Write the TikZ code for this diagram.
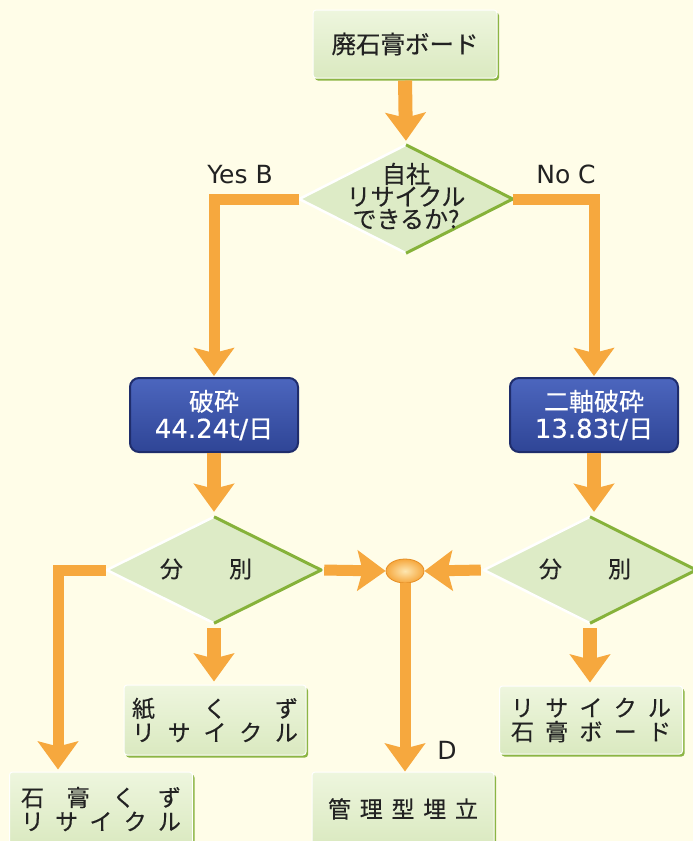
\documentclass[tikz,border=0pt]{standalone}
\usepackage{fontspec}
\setmainfont{Noto Sans CJK JP}[FakeBold=0.4]
\newfontfamily\lat{DejaVu Sans}
\newfontfamily\latb{DejaVu Sans}[FakeBold=0.4]
\usetikzlibrary{arrows.meta,shapes.geometric,shadows}
\definecolor{bg}{HTML}{FFFDE8}
\definecolor{orng}{HTML}{F6A83E}
\definecolor{orngdark}{HTML}{E58E25}
\definecolor{orngl}{HTML}{FDE6B0}
\definecolor{gfillA}{HTML}{EEF6DE}
\definecolor{gfillB}{HTML}{DAE9C0}
\definecolor{gshadow}{HTML}{8CB544}
\definecolor{dfill}{HTML}{DDEBC6}
\definecolor{dgreen}{HTML}{86B23A}
\definecolor{bfillA}{HTML}{4C66BE}
\definecolor{bfillB}{HTML}{2F4596}
\definecolor{bdraw}{HTML}{1F2D6C}
\definecolor{txt}{HTML}{222222}
\newcommand\diaedges[1]{%
  \draw[white, line width=2.5pt, line join=round] (#1.south) -- (#1.west) -- (#1.north);
  \draw[dgreen, line width=3pt, line join=round] (#1.north) -- (#1.east) -- (#1.south);}
\tikzset{
  gbox/.style={rectangle, rounded corners=3pt, top color=gfillA, bottom color=gfillB,
    draw=white, line width=1pt, inner sep=0pt, align=center, text=txt,
    font=\fontsize{23}{24}\selectfont,
    general shadow={fill=gshadow, shadow xshift=2pt, shadow yshift=-2.5pt}},
  bbox/.style={rectangle, rounded corners=9pt, top color=bfillA, bottom color=bfillB,
    draw=bdraw, line width=2pt, inner sep=0pt, align=center, text=white,
    font=\fontsize{25}{27}\selectfont, minimum width=168pt, minimum height=74pt},
  dia/.style={diamond, inner sep=0pt, fill=dfill},
  dtext/.style={align=center, text=txt, inner sep=0pt},
  sarr/.style={draw=orng, line width=14pt, -{Stealth[length=28pt,width=40pt,inset=5pt]}},
  larr/.style={draw=orng, line width=11pt, -{Stealth[length=28pt,width=40pt,inset=5pt]}},
  lbl/.style={font=\lat\fontsize{25}{28}\selectfont, text=txt, inner sep=0pt},
}
\begin{document}
\begin{tikzpicture}[x=1pt,y=-1pt]
\useasboundingbox (0,0) rectangle (693,841);
\clip (0,0) rectangle (693,841);
\fill[bg] (0,0) rectangle (693,841);

% nodes
\node[gbox, minimum width=184pt, minimum height=68pt, font=\fontsize{24.5}{26}\selectfont] (top) at (405,44) {廃石膏ボード};

\node[dia, minimum width=213pt, minimum height=108pt] (q) at (406,199) {};
\diaedges{q}
\node[dtext, font=\fontsize{24}{22.5}\selectfont] (qt) at (406,196) {自社\\リサイクル\\できるか?};

\node[lbl] (yes) at (240,175) {Yes B};
\node[lbl] (noc) at (566,174) {No C};

\node[bbox] (bL) at (214,415) {破砕\\{\latb\fontsize{26}{27}\selectfont 44.24t/}日};
\node[bbox] (bR) at (594,415) {二軸破砕\\{\latb\fontsize{26}{27}\selectfont 13.83t/}日};

\node[dia, minimum width=214pt, minimum height=106pt] (sL) at (214,570) {};
\diaedges{sL}
\node[dtext, font=\fontsize{23}{24}\selectfont] (sLt) at (206,569) {分\hspace{2em}別};

\node[dia, minimum width=212pt, minimum height=106pt] (sR) at (590,570) {};
\diaedges{sR}
\node[dtext, font=\fontsize{23}{24}\selectfont] (sRt) at (585,569) {分\hspace{2em}別};

\node[ellipse, minimum width=38pt, minimum height=24pt, inner sep=0pt,
  inner color=orngl, outer color=orng, draw=orngdark, line width=0.8pt] (m) at (405,571) {};

\node[gbox, minimum width=182pt, minimum height=70pt] (kami) at (215,720)
  {\makebox[166pt]{紙\hfill く\hfill ず}\\\makebox[166pt]{リ\hfill サ\hfill イ\hfill ク\hfill ル}};
\node[gbox, minimum width=183pt, minimum height=68pt] (rb) at (591,720)
  {\makebox[160pt]{リ\hfill サ\hfill イ\hfill ク\hfill ル}\\\makebox[160pt]{石\hfill 膏\hfill ボ\hfill ー\hfill ド}};
\node[gbox, minimum width=183pt, minimum height=74pt] (gk) at (101,809)
  {\makebox[160pt]{石\hfill 膏\hfill く\hfill ず}\\\makebox[160pt]{リ\hfill サ\hfill イ\hfill ク\hfill ル}};
\node[gbox, minimum width=182pt, minimum height=74pt] (kanri) at (403,809)
  {\raisebox{2pt}{\makebox[150pt]{管\hfill 理\hfill 型\hfill 埋\hfill 立}}};

\node[lbl] (dl) at (447,750) {D};

% connectors
\draw[sarr, shorten <=2pt, shorten >=4pt] (top.south) -- (q.north);
\draw[larr, shorten >=1pt] (q.west) -| (bL.north);
\draw[larr, shorten >=1pt] (q.east) -| (bR.north);
\draw[sarr, shorten >=5pt] (bL.south) -- (bL.south |- sL.north);
\draw[sarr, shorten >=5pt] (bR.south) -- (bR.south |- sR.north);
\draw[sarr, shorten <=5pt, shorten >=3pt] (sL.south) -- (sL.south |- kami.north);
\draw[sarr, shorten <=5pt, shorten >=3pt] (sR.south) -- (sR.south |- rb.north);
\draw[larr, shorten <=3pt] (sL.east) -- (m.west);
\draw[larr, shorten <=3pt] (sR.west) -- (m.east);
\draw[larr] (m.south) -- (m.south |- kanri.north);
\draw[larr, shorten <=1pt, shorten >=2pt] (sL.west) -| ([xshift=-43pt]gk.north);
\end{tikzpicture}
\end{document}
